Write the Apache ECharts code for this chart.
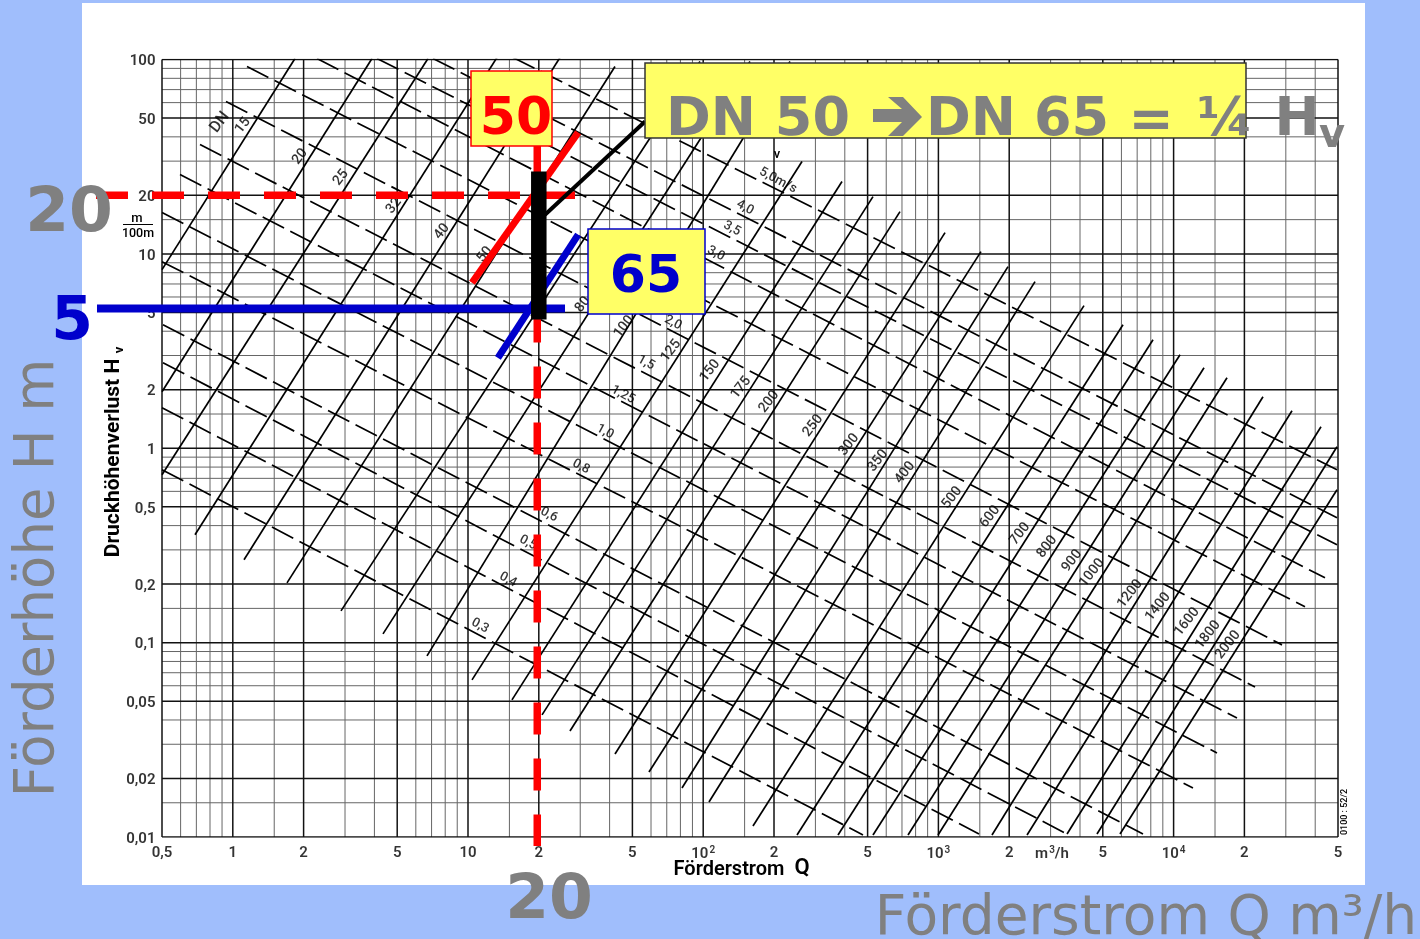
<!DOCTYPE html>
<html><head><meta charset="utf-8">
<style>html,body{margin:0;padding:0;background:#A0BEFC}#c{width:1420px;height:939px}</style>
<script src="https://cdn.jsdelivr.net/npm/echarts@6/dist/echarts.min.js"></script></head>
<body><div id="c"></div>
<script>
// Grid values
const xMajor=[0.5,1,2,5,10,20,50,100,200,500,1000,2000,5000,10000,20000,50000];
const xMinor=[0.6,0.7,0.8,0.9,1.5,3,4,6,7,8,9,15,30,40,60,70,80,90,150,300,400,600,700,800,900,1500,3000,4000,6000,7000,8000,9000,15000,30000,40000];
const yMajor=[0.01,0.02,0.05,0.1,0.2,0.5,1,2,5,10,20,50,100];
const yMinor=[0.015,0.03,0.04,0.06,0.07,0.08,0.09,0.15,0.3,0.4,0.6,0.7,0.8,0.9,1.5,3,4,6,7,8,9,15,30,40,60,70,80,90];
// Tick labels
const xTickValues=[0.5,1,2,5,10,20,50,100,200,500,1000,2000,3041,5000,10000,20000,50000];
const xTickLabels=['0,5','1','2','5','10','2','5','10{s|2}','2','5','10{s|3}','2','m{s|3}/h','5','10{s|4}','2','5'];
const yTickValues=[100,50,20,10,5,2,1,0.5,0.2,0.1,0.05,0.02,0.01];
const yTickLabels=['100','50','20','10','5','2','1','0,5','0,2','0,1','0,05','0,02','0,01'];
// Nominal-diameter lines (DN): [Q,H] at the low and the high end
const dnNames=[15,20,25,32,40,50,65,80,100,125,150,175,200,250,300,350,400,500,600,700,800,900,1000,1200,1400,1600,1800,2000];
const dnLow=[[0.5,8.297],[0.5,1.954],[0.5,0.7304],[0.6907,0.3587],[1.116,0.2667],[1.7,0.203],[2.884,0.1457],[4.351,0.1109],[6.694,0.08547],[10.4,0.0643],[15.38,0.05073],[20.64,0.04247],[27.14,0.03513],[42.17,0.02675],[58.82,0.02161],[81.26,0.01788],[105.8,0.01514],[162.8,0.01139],[250.5,0.01024],[374.2,0.01024],[527.1,0.01024],[742.6,0.01024],[996.1,0.01024],[1690,0.01024],[2381,0.01024],[3522,0.01036],[4724,0.01036],[5917,0.01036]];
const dnHigh=[[1.838,101.2],[3.907,101.2],[6.76,101.2],[13.28,102.4],[24.61,102.4],[42.17,92.04],[96.91,97.66],[158.1,97.66],[233.9,97.66],[263.1,29.85],[389.2,23.55],[527.1,19.71],[686.6,16.5],[1067,12.86],[1517,10.27],[1977,8.597],[2575,7.197],[4159,5.415],[6093,4.323],[8173,3.619],[10650,3.029],[13470,2.597],[16870,2.306],[23990,1.841],[31870,1.56],[42330,1.29],[49510,1.018],[49510,0.6114]];
// Velocity lines (dashed): [Q,H] at both ends
const velNames=['0,3','0,4','0,5','0,6','0,8','1,0','1,25','1,5','2,0','2,5','3,0','3,5','4,0','5,0'];
const velStart=[[0.5,0.775],[0.5,1.616],[0.5049,2.755],[0.5049,4.323],[0.5,9.122],[0.5,16.31],[0.5963,25.58],[0.7253,36.51],[0.9356,60.78],[1.149,92.04],[2.28,101.2],[4.103,101.2],[7.099,101.2],[15.54,102.4]];
const velEnd=[[478,0.01024],[1488,0.01036],[3522,0.01036],[7411,0.01036],[12090,0.01788],[15290,0.02707],[18600,0.04098],[22190,0.05918],[28900,0.09737],[36200,0.1528],[44020,0.2154],[49510,0.3186],[49510,0.4387],[49510,0.775]];
// Line labels
const dnHeadPos=[[0.8822,47.39]];
const dnLabelNames=['15','20','25','32','40','50','80','100','125','150','175','200','250','300','350','400','500','600','700','800','900','1000','1200','1400','1600','1800','2000'];
const dnLabelPos=[[1.105,45.73],[1.931,31.67],[2.884,24.69],[4.846,17.67],[7.753,13.02],[11.81,9.911],[30.83,5.479],[46.05,4.222],[72.96,3.176],[106.9,2.506],[144.8,2.049],[190.4,1.735],[293,1.306],[416.8,1.042],[553.6,0.8623],[721.1,0.748],[1142,0.5561],[1657,0.444],[2223,0.3629],[2896,0.3111],[3698,0.2635],[4498,0.2286],[6526,0.1782],[8583,0.1528],[11400,0.1279],[14000,0.1096],[17030,0.09737]];
const velLabelNames=['5,0m/s','4,0','3,5','3,0','2,0','1,5','1,25','1,0','0,8','0,6','0,5','0,4','0,3'];
const velLabelPos=[[208,23.83],[150.6,17.3],[132.6,13.49],[113.3,10.03],[74.4,4.427],[57.12,2.755],[45.6,1.885],[38.24,1.216],[30.23,0.8031],[22.1,0.4546],[17.99,0.3262],[14.79,0.2104],[11.25,0.122]];
// Worked example overlay
const redH=[[0.262,20],[28.5,20]];
const blueH=[[0.2646,5.24],[25.85,5.24]];
const redV=[[19.7,37.4],[19.7,0.009]];
const blackBar=[[20,26.5],[20,4.59]];
const blackLeader=[[21.25,15.9],[56.6,47.96]];
const redDiag=[[10.4,7.11],[29.4,42.1]];
const blueDiag=[[13.4,2.92],[29.4,12.56]];

const GRAY='#808080',RED='#FF0000',BLUE='#0000CC',YEL='#FFFF66';
const PRINT="Roboto, 'Liberation Sans', sans-serif";
const SLIDE="'DejaVu Sans', sans-serif";
const series=[];
function ln(data,color,width,extra){series.push(Object.assign({type:'line',data,symbol:'none',silent:true,animation:false,lineStyle:{color,width,cap:'butt'},z:2},extra||{}));}
const X0=0.5,X1=50000,Y0=0.01,Y1=100;
xMinor.forEach(v=>ln([[v,Y0],[v,Y1]],'#666',1));
yMinor.forEach(v=>ln([[X0,v],[X1,v]],'#666',1));
xMajor.forEach(v=>ln([[v,Y0],[v,Y1]],'#111',1.5));
yMajor.forEach(v=>ln([[X0,v],[X1,v]],'#111',1.5));
dnNames.forEach((n,i)=>ln([dnLow[i],dnHigh[i]],'#000',1.7,{z:3}));
velNames.forEach((n,i)=>ln([velStart[i],velEnd[i]],'#000',1.7,{z:3,lineStyle:{color:'#000',width:1.7,type:[24,7],cap:'butt'}}));
function lab(values,names,pos,dist,font,rotate,weight,offset){series.push({type:'scatter',silent:true,animation:false,clip:false,symbolSize:1,itemStyle:{color:'rgba(0,0,0,0)'},z:4,
 data:values.map((v,i)=>({value:v,name:names[i]})),
 label:{show:true,formatter:'{b}',position:pos,distance:dist,offset:offset||[0,0],color:'#000',fontFamily:PRINT,fontWeight:weight||500,fontSize:font,rotate:rotate||0,
  rich:{s:{fontSize:10,fontWeight:weight||500,fontFamily:PRINT,color:'#000',padding:[0,0,7,1]}}}});}
lab(xTickValues.map(v=>[v,Y0]),xTickLabels,'bottom',8,15,0,600);
lab(yTickValues.map(v=>[X0,v]),yTickLabels,'left',6,15,0,600,[0,2]);
lab(dnHeadPos,['DN'],'inside',0,16,52);
lab(dnLabelPos,dnLabelNames,'inside',0,14,52);
lab(velLabelPos,velLabelNames,'inside',0,13,-28);
// Overlay strokes run past the plot area, so they are custom series (not clipped)
function stroke(pts,color,width,dash){series.push({type:'custom',silent:true,animation:false,clip:false,z:6,encode:{x:[0,2],y:[1,3]},
 data:[[pts[0][0],pts[0][1],pts[1][0],pts[1][1]]],
 renderItem:(p,api)=>{const a=api.coord([api.value(0),api.value(1)]),b=api.coord([api.value(2),api.value(3)]);
  return {type:'line',shape:{x1:a[0],y1:a[1],x2:b[0],y2:b[1]},style:{stroke:color,lineWidth:width,lineCap:'butt',lineDash:dash||null,fill:null}};}});}
stroke(redH,RED,7.5,[32,24]);
stroke(blueH,BLUE,8);
stroke(redDiag,RED,7);
stroke(blueDiag,BLUE,7);
stroke(blackLeader,'#000',4);
stroke(redV,RED,7.5,[32,24]);
stroke(blackBar,'#000',15.5);

function txt(text,x,y,font,fill,align,rot){return {type:'text',x,y,rotation:rot||0,z:100,silent:true,style:{text,font,fill,textAlign:align||'center',textVerticalAlign:'middle'}};}
function box(x,y,w,h,stroke){return {type:'rect',z:99,silent:true,shape:{x,y,width:w,height:h},style:{fill:YEL,stroke,lineWidth:1.5}};}
const B=s=>`bold ${s}px ${SLIDE}`, R=s=>`${s}px ${SLIDE}`;
const M=(s,w)=>`${w||500} ${s}px ${PRINT}`;
const graphic=[
 {type:'rect',z:-10,silent:true,shape:{x:82,y:3,width:1283,height:882},style:{fill:'#fff'}},
 box(471,71,81,75,RED),
 txt('50',516,120,B(52),RED),
 box(588,229,117,85,BLUE),
 txt('65',646,278,B(52),BLUE),
 box(645,63,601,75,'#333'),
 txt('DN 50',666,121,B(54),GRAY,'left'),
 {type:'polygon',z:100,silent:true,shape:{points:[[873,109],[902,109],[888,97],[903,97],[922,117],[903,136],[888,136],[902,122],[873,122]]},style:{fill:GRAY}},
 txt('DN',926,121,B(54),GRAY,'left'),
 txt('65',1071.5,121,B(54),GRAY),
 txt('=',1151,123,B(54),GRAY),
 txt('¼',1225,121,B(54),GRAY),
 txt('H',1297,121,B(54),GRAY),
 txt('v',1332,137,B(40),GRAY),
 txt('20',69,215,B(63),GRAY),
 txt('5',72,323,B(60),BLUE),
 txt('20',549,902,B(63),GRAY),
 txt('Förderhöhe H m',39,578,R(54.5),GRAY,'center',Math.PI/2),
 txt('Förderstrom Q m³/h',1146,920,R(55),GRAY),
 txt('Druckhöhenverlust H',114,458,M(21,700),'#000','center',Math.PI/2),
 txt('v',120,350,M(13,700),'#000','center',Math.PI/2),
 txt('Förderstrom',729,870,M(20,600),'#000'),
 txt('Q',802,868,M(22,600),'#000'),
 txt('m',137,219,M(13),'#000'),
 {type:'line',z:100,silent:true,shape:{x1:123,y1:224.5,x2:153,y2:224.5},style:{stroke:'#000',lineWidth:1}},
 txt('100m',138,234,M(12.5),'#000'),
 txt('v',777,155,M(13),'#000'),
 txt('0100 : 52/2',1345,812,M(9),'#000','center',Math.PI/2)
];
const chart=echarts.init(document.getElementById('c'),null,{renderer:'canvas'});
chart.setOption({
 backgroundColor:'#A0BEFC',animation:false,
 grid:{left:162,top:59.5,width:1176,height:777.5,containLabel:false},
 xAxis:{type:'log',logBase:10,min:X0,max:X1,axisLine:{show:false},axisTick:{show:false},axisLabel:{show:false},splitLine:{show:false}},
 yAxis:{type:'log',logBase:10,min:Y0,max:Y1,axisLine:{show:false},axisTick:{show:false},axisLabel:{show:false},splitLine:{show:false}},
 series,graphic
});
</script></body></html>
